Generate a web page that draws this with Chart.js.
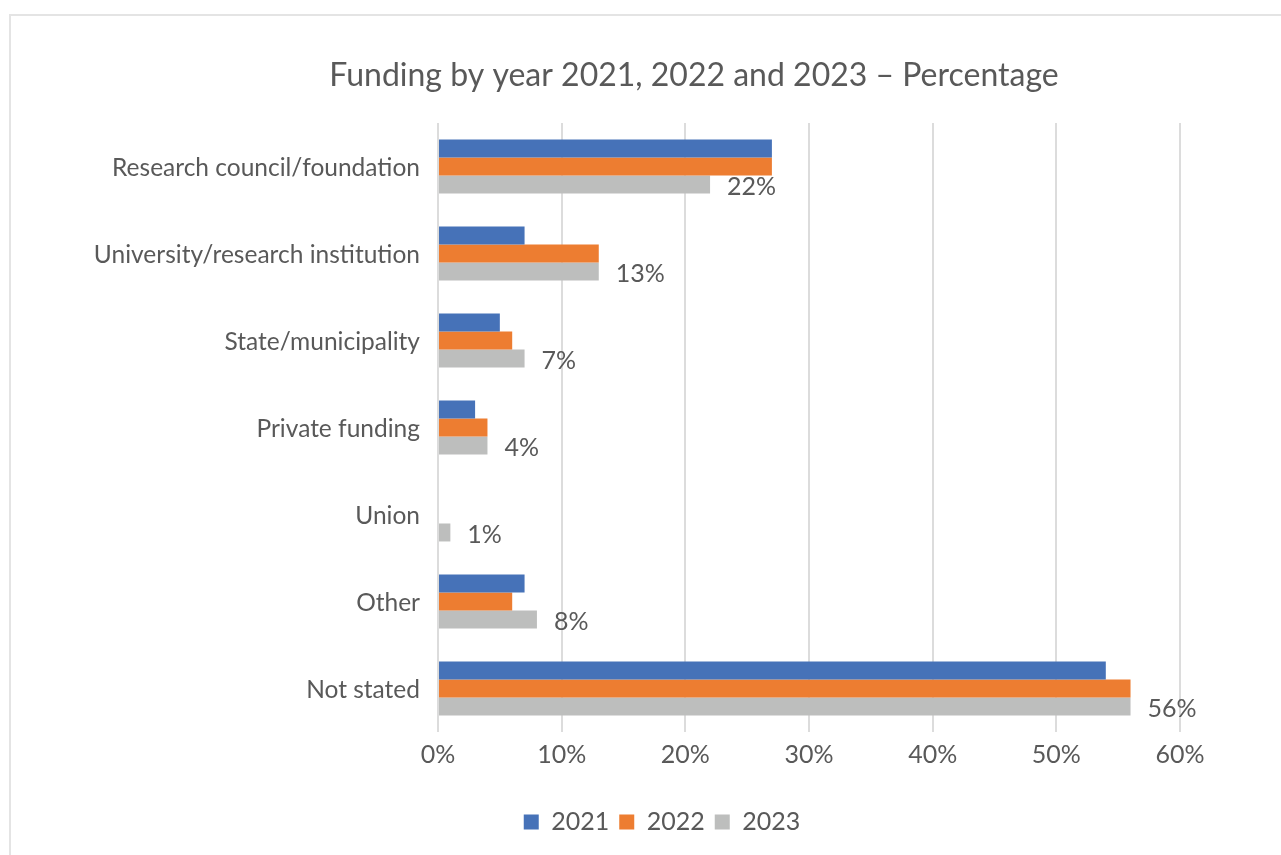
<!DOCTYPE html>
<html>
<head>
<meta charset="utf-8">
<title>Funding by year</title>
<script src="https://cdn.jsdelivr.net/npm/chart.js@4"></script>
<style>
  html, body { margin: 0; padding: 0; background: #fff; overflow: hidden; }
  .frame {
    position: absolute; left: 9px; top: 14px;
    width: 1400px; height: 1000px;
    border-left: 2px solid #e4e4e4; border-top: 2px solid #e4e4e4;
  }
  .wrap { position: absolute; left: 0; top: 0; width: 1281px; height: 855px; }
</style>
</head>
<body>
<div class="frame"></div>
<div class="wrap"><canvas id="fundingChart" width="1281" height="855"></canvas></div>
<script>
// Funding sources, share per year (%)
const categories = [
    'Research council/foundation',
    'University/research institution',
    'State/municipality',
    'Private funding',
    'Union',
    'Other',
    'Not stated'
];
const years = ['2021', '2022', '2023'];
const values2021 = [27, 7, 5, 3, 0, 7, 54];
const values2022 = [27, 13, 6, 4, 0, 6, 56];
const values2023 = [22, 13, 7, 4, 1, 8, 56];
const xTicks = [0, 10, 20, 30, 40, 50, 60];

const FONT = 'Lato, "Open Sans", sans-serif';
const TEXT = '#595959';
const SIZE = 25;

Chart.defaults.font.family = FONT;
Chart.defaults.color = TEXT;

// Title and legend sit off the canvas centre
const blockShift = {
    id: 'blockShift',
    afterLayout(chart) {
        const t = chart.titleBlock;
        if (t) { t.left += 94; t.right += 94; }
        const l = chart.legend;
        if (l) { l.left += 62; l.right += 62; }
    }
};

// Value labels next to the 2023 bars
const lastSeriesLabels = {
    id: 'lastSeriesLabels',
    afterDatasetsDraw(chart) {
        const ctx = chart.ctx;
        const meta = chart.getDatasetMeta(2);
        ctx.save();
        ctx.font = SIZE + 'px ' + FONT;
        ctx.fillStyle = TEXT;
        ctx.textAlign = 'left';
        ctx.textBaseline = 'middle';
        meta.data.forEach((bar, i) => {
            ctx.fillText(values2023[i] + '%', bar.x + 17, bar.y + 2);
        });
        ctx.restore();
    }
};

new Chart(document.getElementById('fundingChart'), {
    type: 'bar',
    data: {
        labels: categories,
        datasets: [
            { label: years[0], data: values2021, backgroundColor: '#4672B8' },
            { label: years[1], data: values2022, backgroundColor: '#ED7D31' },
            { label: years[2], data: values2023, backgroundColor: '#BDBEBD' }
        ]
    },
    options: {
        indexAxis: 'y',
        responsive: false,
        animation: false,
        layout: { padding: { left: 20, right: 101, top: 0, bottom: 10.5 } },
        datasets: {
            bar: { barPercentage: 1, categoryPercentage: 0.62 }
        },
        scales: {
            x: {
                min: 0,
                max: 60,
                afterBuildTicks(axis) {
                    axis.ticks = xTicks.map(v => ({ value: v }));
                },
                afterFit(axis) { axis.height = 67.5; },
                ticks: {
                    callback: v => v + '%',
                    font: { size: SIZE },
                    color: TEXT,
                    padding: 8
                },
                grid: { color: '#dcdcdc', lineWidth: 2, drawTicks: false },
                border: { display: false }
            },
            y: {
                afterFit(axis) { axis.width = 418; },
                ticks: { font: { size: 24.5 }, color: TEXT, padding: 18, labelOffset: 2 },
                grid: { display: false, drawTicks: false },
                border: { display: false }
            }
        },
        plugins: {
            title: {
                display: true,
                text: 'Funding by year 2021, 2022 and 2023 \u2013 Percentage',
                font: { size: 32, weight: 'normal' },
                color: TEXT,
                padding: { top: 56.8, bottom: 27.8 }
            },
            legend: {
                position: 'bottom',
                labels: {
                    boxWidth: 15,
                    boxHeight: 15,
                    padding: 10,
                    font: { size: SIZE },
                    color: TEXT
                }
            },
            tooltip: { enabled: false }
        }
    },
    plugins: [blockShift, lastSeriesLabels]
});
</script>
</body>
</html>
